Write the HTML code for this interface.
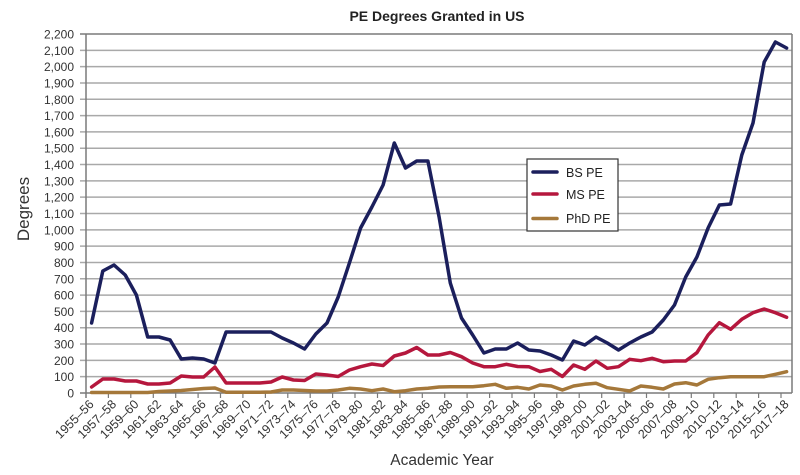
<!DOCTYPE html>
<html><head><meta charset="utf-8"><style>
html,body{margin:0;padding:0;background:#fff;}
svg{display:block;font-family:"Liberation Sans",Arial,sans-serif;}
</style></head><body>
<svg width="800" height="475" viewBox="0 0 800 475" xmlns="http://www.w3.org/2000/svg">
<rect x="0" y="0" width="800" height="475" fill="#fff"/>
<text x="437" y="21" text-anchor="middle" font-size="14" font-weight="bold" fill="#222">PE Degrees Granted in US</text>
<g stroke="#a9a9a9" stroke-width="1.5">
<line x1="80" x2="792" y1="376.68" y2="376.68"/>
<line x1="80" x2="792" y1="360.36" y2="360.36"/>
<line x1="80" x2="792" y1="344.05" y2="344.05"/>
<line x1="80" x2="792" y1="327.73" y2="327.73"/>
<line x1="80" x2="792" y1="311.41" y2="311.41"/>
<line x1="80" x2="792" y1="295.09" y2="295.09"/>
<line x1="80" x2="792" y1="278.77" y2="278.77"/>
<line x1="80" x2="792" y1="262.45" y2="262.45"/>
<line x1="80" x2="792" y1="246.14" y2="246.14"/>
<line x1="80" x2="792" y1="229.82" y2="229.82"/>
<line x1="80" x2="792" y1="213.50" y2="213.50"/>
<line x1="80" x2="792" y1="197.18" y2="197.18"/>
<line x1="80" x2="792" y1="180.86" y2="180.86"/>
<line x1="80" x2="792" y1="164.55" y2="164.55"/>
<line x1="80" x2="792" y1="148.23" y2="148.23"/>
<line x1="80" x2="792" y1="131.91" y2="131.91"/>
<line x1="80" x2="792" y1="115.59" y2="115.59"/>
<line x1="80" x2="792" y1="99.27" y2="99.27"/>
<line x1="80" x2="792" y1="82.95" y2="82.95"/>
<line x1="80" x2="792" y1="66.64" y2="66.64"/>
<line x1="80" x2="792" y1="50.32" y2="50.32"/>
</g>
<g stroke="#7a7a7a" stroke-width="1.5" fill="none">
<line x1="80" x2="792" y1="34" y2="34"/>
<line x1="792" x2="792" y1="34" y2="393"/>
<line x1="86" x2="86" y1="34" y2="398"/>
<line x1="80" x2="792" y1="393" y2="393"/>
</g>
<g stroke="#7a7a7a" stroke-width="1.2">
<line x1="108.4" x2="108.4" y1="393" y2="398"/><line x1="130.8" x2="130.8" y1="393" y2="398"/><line x1="153.3" x2="153.3" y1="393" y2="398"/><line x1="175.7" x2="175.7" y1="393" y2="398"/><line x1="198.1" x2="198.1" y1="393" y2="398"/><line x1="220.5" x2="220.5" y1="393" y2="398"/><line x1="242.9" x2="242.9" y1="393" y2="398"/><line x1="265.4" x2="265.4" y1="393" y2="398"/><line x1="287.8" x2="287.8" y1="393" y2="398"/><line x1="310.2" x2="310.2" y1="393" y2="398"/><line x1="332.6" x2="332.6" y1="393" y2="398"/><line x1="355.0" x2="355.0" y1="393" y2="398"/><line x1="377.5" x2="377.5" y1="393" y2="398"/><line x1="399.9" x2="399.9" y1="393" y2="398"/><line x1="422.3" x2="422.3" y1="393" y2="398"/><line x1="444.7" x2="444.7" y1="393" y2="398"/><line x1="467.1" x2="467.1" y1="393" y2="398"/><line x1="489.6" x2="489.6" y1="393" y2="398"/><line x1="512.0" x2="512.0" y1="393" y2="398"/><line x1="534.4" x2="534.4" y1="393" y2="398"/><line x1="556.8" x2="556.8" y1="393" y2="398"/><line x1="579.2" x2="579.2" y1="393" y2="398"/><line x1="601.7" x2="601.7" y1="393" y2="398"/><line x1="624.1" x2="624.1" y1="393" y2="398"/><line x1="646.5" x2="646.5" y1="393" y2="398"/><line x1="668.9" x2="668.9" y1="393" y2="398"/><line x1="691.3" x2="691.3" y1="393" y2="398"/><line x1="713.8" x2="713.8" y1="393" y2="398"/><line x1="736.2" x2="736.2" y1="393" y2="398"/><line x1="758.6" x2="758.6" y1="393" y2="398"/><line x1="781.0" x2="781.0" y1="393" y2="398"/>
</g>
<g font-size="12" fill="#333" text-anchor="end">
<text x="74" y="397.5">0</text>
<text x="74" y="381.2">100</text>
<text x="74" y="364.9">200</text>
<text x="74" y="348.5">300</text>
<text x="74" y="332.2">400</text>
<text x="74" y="315.9">500</text>
<text x="74" y="299.6">600</text>
<text x="74" y="283.3">700</text>
<text x="74" y="266.9">800</text>
<text x="74" y="250.6">900</text>
<text x="74" y="234.3">1,000</text>
<text x="74" y="218.0">1,100</text>
<text x="74" y="201.7">1,200</text>
<text x="74" y="185.4">1,300</text>
<text x="74" y="169.0">1,400</text>
<text x="74" y="152.7">1,500</text>
<text x="74" y="136.4">1,600</text>
<text x="74" y="120.1">1,700</text>
<text x="74" y="103.8">1,800</text>
<text x="74" y="87.5">1,900</text>
<text x="74" y="71.1">2,000</text>
<text x="74" y="54.8">2,100</text>
<text x="74" y="38.5">2,200</text>
</g>
<g font-size="12.5" fill="#333" text-anchor="end">
<text transform="translate(94.6,405) rotate(-45)">1955–56</text>
<text transform="translate(117.0,405) rotate(-45)">1957–58</text>
<text transform="translate(139.4,405) rotate(-45)">1959–60</text>
<text transform="translate(161.9,405) rotate(-45)">1961–62</text>
<text transform="translate(184.3,405) rotate(-45)">1963–64</text>
<text transform="translate(206.7,405) rotate(-45)">1965–66</text>
<text transform="translate(229.1,405) rotate(-45)">1967–68</text>
<text transform="translate(251.5,405) rotate(-45)">1969–70</text>
<text transform="translate(274.0,405) rotate(-45)">1971–72</text>
<text transform="translate(296.4,405) rotate(-45)">1973–74</text>
<text transform="translate(318.8,405) rotate(-45)">1975–76</text>
<text transform="translate(341.2,405) rotate(-45)">1977–78</text>
<text transform="translate(363.6,405) rotate(-45)">1979–80</text>
<text transform="translate(386.1,405) rotate(-45)">1981–82</text>
<text transform="translate(408.5,405) rotate(-45)">1983–84</text>
<text transform="translate(430.9,405) rotate(-45)">1985–86</text>
<text transform="translate(453.3,405) rotate(-45)">1987–88</text>
<text transform="translate(475.7,405) rotate(-45)">1989–90</text>
<text transform="translate(498.2,405) rotate(-45)">1991–92</text>
<text transform="translate(520.6,405) rotate(-45)">1993–94</text>
<text transform="translate(543.0,405) rotate(-45)">1995–96</text>
<text transform="translate(565.4,405) rotate(-45)">1997–98</text>
<text transform="translate(587.8,405) rotate(-45)">1999–00</text>
<text transform="translate(610.3,405) rotate(-45)">2001–02</text>
<text transform="translate(632.7,405) rotate(-45)">2003–04</text>
<text transform="translate(655.1,405) rotate(-45)">2005–06</text>
<text transform="translate(677.5,405) rotate(-45)">2007–08</text>
<text transform="translate(699.9,405) rotate(-45)">2009–10</text>
<text transform="translate(722.4,405) rotate(-45)">2010–12</text>
<text transform="translate(744.8,405) rotate(-45)">2013–14</text>
<text transform="translate(767.2,405) rotate(-45)">2015–16</text>
<text transform="translate(789.6,405) rotate(-45)">2017–18</text>
</g>
<text x="442" y="465" text-anchor="middle" font-size="15.5" fill="#333">Academic Year</text>
<text transform="translate(29,209) rotate(-90)" text-anchor="middle" font-size="17" fill="#333">Degrees</text>
<g fill="none" stroke-width="3.5" stroke-linejoin="round" stroke-linecap="round">
<polyline stroke="#a5783a" points="91.6,392.5 102.8,392.5 114.0,392.5 125.2,392.5 136.4,392.5 147.7,392.5 158.9,391.5 170.1,391 181.3,390.5 192.5,389.5 203.7,388.5 214.9,388 226.1,392.3 237.3,392.3 248.5,392.3 259.8,392.3 271.0,392 282.2,390 293.4,390 304.6,390.5 315.8,391 327.0,391 338.2,390 349.4,388.3 360.6,389 371.9,390.7 383.1,389 394.3,391.7 405.5,390.7 416.7,389 427.9,388.3 439.1,387 450.3,386.7 461.5,386.7 472.7,386.7 483.9,385.7 495.2,384.3 506.4,388.3 517.6,387.3 528.8,389 540.0,385 551.2,386 562.4,390 573.6,386 584.8,384.3 596.0,383.3 607.3,387.7 618.5,389.3 629.7,391 640.9,386 652.1,387.3 663.3,389 674.5,384 685.7,382.7 696.9,385 708.1,379.3 719.4,377.7 730.6,376.7 741.8,376.7 753.0,376.7 764.2,376.7 775.4,374.3 786.6,371.7"/>
<polyline stroke="#b5173d" points="91.6,387 102.8,379 114.0,379 125.2,381 136.4,381 147.7,384 158.9,384 170.1,383 181.3,376 192.5,377 203.7,377 214.9,367 226.1,383 237.3,383 248.5,383 259.8,383 271.0,382 282.2,377 293.4,380 304.6,380.5 315.8,374 327.0,375 338.2,376.5 349.4,370 360.6,366.7 371.9,364 383.1,365.5 394.3,356 405.5,353 416.7,347.5 427.9,355 439.1,355 450.3,352.5 461.5,356.7 472.7,363 483.9,366.7 495.2,366.7 506.4,364.3 517.6,366.5 528.8,366.7 540.0,371.5 551.2,369.3 562.4,376.5 573.6,365 584.8,369.3 596.0,361 607.3,368.3 618.5,366.7 629.7,359.3 640.9,360.7 652.1,358.3 663.3,361.7 674.5,361 685.7,361 696.9,352.7 708.1,335 719.4,322.7 730.6,329.3 741.8,319.3 753.0,312.7 764.2,309 775.4,312.7 786.6,317.3"/>
<polyline stroke="#1b1f5c" points="91.6,323 102.8,271 114.0,265 125.2,275 136.4,295 147.7,337 158.9,337 170.1,340 181.3,359 192.5,358 203.7,359 214.9,363 226.1,332 237.3,332 248.5,332 259.8,332 271.0,332 282.2,338 293.4,343 304.6,349 315.8,334 327.0,323 338.2,297 349.4,263 360.6,228 371.9,207 383.1,185 394.3,143 405.5,168 416.7,161 427.9,161 439.1,217 450.3,283 461.5,318 472.7,335 483.9,353 495.2,349 506.4,349 517.6,343 528.8,350 540.0,351 551.2,355 562.4,360 573.6,341 584.8,345 596.0,337 607.3,343 618.5,350 629.7,343 640.9,337 652.1,332 663.3,320 674.5,305 685.7,277 696.9,257 708.1,228 719.4,205 730.6,204 741.8,155 753.0,123 764.2,62 775.4,42 786.6,48"/>
</g>
<rect x="527" y="159" width="91" height="72" fill="#fff" stroke="#333" stroke-width="1.2"/>
<g stroke-width="3.5" stroke-linecap="round">
<line x1="533" x2="557" y1="172" y2="172" stroke="#1b1f5c"/>
<line x1="533" x2="557" y1="194" y2="194" stroke="#b5173d"/>
<line x1="533" x2="557" y1="218.5" y2="218.5" stroke="#a5783a"/>
</g>
<g font-size="12.5" fill="#222">
<text x="566" y="177">BS PE</text>
<text x="566" y="199">MS PE</text>
<text x="566" y="223">PhD PE</text>
</g>
</svg>
</body></html>
